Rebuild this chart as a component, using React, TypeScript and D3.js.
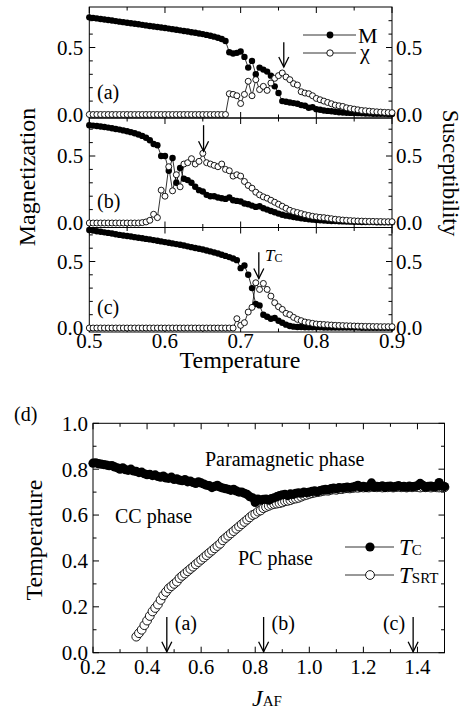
import React from 'react';
import * as d3 from 'd3';

const FONT = '"Liberation Serif", "Times New Roman", Times, serif';

// ---------- Top panels: temperature grid ----------
const T_START = 0.5;
const T_STEP = 0.005;
const T_COUNT = 81;
const TEMPS = d3.range(T_COUNT).map(i => +(T_START + T_STEP * i).toFixed(3));
const X_TICKS = [0.5, 0.6, 0.7, 0.8, 0.9];

// Panel (a)
const M_A = [
  .725,.721,.717,.713,.709,.705,.701,.697,.693,.689,.685,.681,.677,.673,.669,.665,.661,.657,.653,.649,
  .645,.641,.637,.632,.628,.623,.619,.614,.610,.605,.600,.594,.588,.581,.573,.563,.548,
  .465,.455,.46,.47,.43,.35,.40,.30,.35,.335,.32,.29,.21,.16,.10,.095,.09,.085,.08,.07,.065,.05,.055,
  .04,.035,.03,.027,.024,.02,.017,.015,.013,.012,.011,.01,.009,.008,.007,.006,.006,.005,.005,.004,.004
];
const CHI_A = [
  0,0,0,0,0,0,0,0,0,0,0,0,0,0,0,0,0,0,0,0,0,0,0,0,0,0,0,0,0,0,0,0,0,0,0,0,0,
  .155,.15,.14,.082,.15,.248,.14,.26,.186,.21,.18,.235,.27,.29,.31,.28,.26,.23,.22,.17,.16,.155,.14,
  .12,.11,.10,.09,.08,.07,.065,.06,.05,.045,.04,.035,.03,.028,.025,.022,.02,.018,.016,.015,.014
];
// Panel (b)
const M_B = [
  .730,.727,.724,.720,.716,.712,.707,.702,.697,.691,.685,.678,.670,.661,.650,.636,.618,
  .59,.58,.50,.50,.39,.485,.30,.41,.33,.32,.30,.27,.245,.235,.21,.20,.20,.19,.185,.18,.19,.17,.165,
  .16,.145,.14,.13,.12,.125,.11,.10,.09,.08,.07,.062,.055,.05,.045,.04,.036,.032,.028,.025,
  .022,.02,.018,.016,.015,.014,.013,.012,.011,.01,.009,.009,.008,.008,.007,.007,.006,.006,.005,.005,.005
];
const CHI_B = [
  0,0,0,0,0,0,0,0,0,0,0,0,0,0,.003,.008,.02,.065,.04,.245,.20,.42,.24,.36,.27,.44,.45,.48,.44,.46,
  .52,.45,.44,.43,.42,.44,.40,.39,.35,.36,.35,.31,.28,.26,.23,.21,.195,.185,.17,.155,
  .14,.125,.11,.095,.085,.078,.07,.062,.056,.05,.046,.042,.04,.036,.032,.028,.025,.022,.02,.018,
  .016,.015,.014,.013,.012,.012,.011,.011,.01,.01,.01
];
// Panel (c)
const M_C = [
  .737,.733,.728,.724,.719,.715,.710,.705,.700,.696,.692,.688,.683,.679,.675,.670,.666,.661,.656,.651,
  .646,.641,.636,.631,.626,.620,.614,.608,.602,.596,.590,.583,.576,.568,.560,.551,.542,.533,.523,.510,
  .45,.47,.40,.30,.18,.17,.10,.085,.07,.075,.055,.04,.025,.015,.01,.008,.007,.006,.006,.005,.005,
  .005,.004,.004,.004,.004,.003,.003,.003,.003,.003,.003,.002,.002,.002,.002,.002,.002,.002,.002,.002
];
const CHI_C = [
  0,0,0,0,0,0,0,0,0,0,0,0,0,0,0,0,0,0,0,0,0,0,0,0,0,0,0,0,0,0,0,0,0,0,0,0,0,0,0,
  .07,.02,.04,.12,.155,.34,.29,.335,.29,.24,.19,.16,.14,.11,.10,.08,.065,.055,.045,.04,.035,
  .03,.028,.026,.024,.022,.02,.019,.018,.017,.016,.015,.014,.013,.012,.012,.011,.011,.01,.01,.01,.01
];

// ---------- Panel (d) ----------
const J_TC = d3.range(131).map(k => +(0.2 + 0.01 * k).toFixed(2));
const TC = [
  .826,.828,.824,.822,.82,.818,.815,.816,.81,.806,
  .80,.806,.798,.795,.80,.792,.79,.785,.787,.78,
  .776,.778,.772,.775,.768,.765,.77,.762,.76,.765,
  .755,.758,.752,.75,.755,.745,.748,.742,.738,.745,
  .74,.735,.73,.728,.72,.725,.73,.722,.718,.715,
  .712,.708,.712,.705,.70,.70,.695,.69,.68,.675,
  .655,.67,.665,.668,.67,.665,.672,.675,.68,.685,
  .688,.69,.685,.692,.69,.695,.697,.695,.70,.698,
  .70,.703,.705,.702,.707,.71,.712,.71,.715,.718,
  .715,.72,.718,.72,.722,.72,.722,.725,.73,.722,
  .725,.72,.724,.74,.722,.725,.724,.727,.72,.725,
  .726,.722,.725,.728,.724,.725,.722,.726,.724,.725,
  .728,.738,.73,.722,.725,.726,.724,.725,.742,.727,.724
];
const J_SRT = d3.range(115).map(k => +(0.36 + 0.01 * k).toFixed(2));
const TSRT = [
  .07,.085,.10,.12,.14,.16,.18,.195,.21,.23,
  .25,.265,.28,.29,.30,.31,.325,.335,.345,.355,
  .365,.375,.385,.395,.405,.415,.425,.435,.445,.455,
  .465,.475,.49,.50,.51,.52,.53,.54,.55,.56,
  .57,.58,.59,.60,.605,.615,.62,.63,.635,.64,
  .645,.648,.65,.652,.655,.66,.662,.665,.67,.672,
  .675,.68,.685,.688,.692,.695,.698,.70,.702,.705,
  .707,.706,.71,.712,.71,.714,.713,.716,.717,.716,
  .718,.72,.719,.721,.72,.722,.72,.723,.722,.721,
  .722,.72,.723,.721,.722,.72,.722,.723,.721,.722,
  .72,.722,.721,.723,.722,.72,.722,.721,.722,.72,
  .722,.721,.72,.722,.721
];
const J_TICKS = [0.2, 0.4, 0.6, 0.8, 1.0, 1.2, 1.4];
const TD_TICKS = [0.0, 0.2, 0.4, 0.6, 0.8, 1.0];
const ARROWS_D = [
  { j: 0.473, label: '(a)', side: 'right' },
  { j: 0.831, label: '(b)', side: 'right' },
  { j: 1.384, label: '(c)', side: 'left' },
];

// ---------- layout ----------
const xT = d3.scaleLinear().domain([0.5, 0.9]).range([89.3, 392]);
const PANELS = [
  { id: 'a', M: M_A, chi: CHI_A, top: 7, bottom: 118, zero: 114.5, half: 47.5, label: '(a)', labelY: 99,
    arrowT: 0.757, arrowTop: 0.54, arrowTip: 0.355 },
  { id: 'b', M: M_B, chi: CHI_B, top: 118, bottom: 227.5, zero: 223, half: 156, label: '(b)', labelY: 208,
    arrowT: 0.651, arrowTop: 0.73, arrowTip: 0.535 },
  { id: 'c', M: M_C, chi: CHI_C, top: 227.5, bottom: 332, zero: 328, half: 261.5, label: '(c)', labelY: 314,
    arrowT: 0.724, arrowTop: 0.57, arrowTip: 0.372 },
];

const xJ = d3.scaleLinear().domain([0.2, 1.5]).range([93, 444.5]);
const yD = d3.scaleLinear().domain([0, 1]).range([652.7, 423.3]);

const fmt = d3.format('.1f');

function Arrow({ x, y0, y1 }: { x: number; y0: number; y1: number }) {
  return (
    <g stroke="#000" strokeWidth={1.3} fill="none">
      <line x1={x} y1={y0} x2={x} y2={y1} />
      <polyline points={`${x - 5},${y1 - 10} ${x},${y1} ${x + 5},${y1 - 10}`} />
    </g>
  );
}

function TopPanel({ p, last }: { p: typeof PANELS[number]; last: boolean }) {
  const y = d3.scaleLinear().domain([0, 0.5]).range([p.zero, p.half]);
  const line = d3.line<number>().x((_, i) => xT(TEMPS[i])).y(v => y(v));
  const [x0, x1] = xT.range();
  const yTicks = d3.range(0, 9).map(k => k / 10).filter(v => y(v) > p.top + 1.5);
  const xTicks = d3.range(0, 9).map(k => 0.5 + k * 0.05);
  return (
    <g>
      <rect x={x0} y={p.top} width={x1 - x0} height={p.bottom - p.top} fill="none" stroke="#000" strokeWidth={1} />
      {xTicks.map((t, k) => {
        const len = k % 2 === 0 ? 6 : 3.5;
        const xx = xT(t);
        return (
          <g key={'xt' + k} stroke="#000" strokeWidth={1}>
            <line x1={xx} x2={xx} y1={p.bottom} y2={p.bottom - len} />
            <line x1={xx} x2={xx} y1={p.top} y2={p.top + len} />
          </g>
        );
      })}
      {yTicks.map((v, k) => {
        const major = Math.abs(v) < 1e-6 || Math.abs(v - 0.5) < 1e-6;
        const len = major ? 6 : 3.5;
        const yy = y(v);
        return (
          <g key={'yt' + k} stroke="#000" strokeWidth={1}>
            <line x1={x0} x2={x0 + len} y1={yy} y2={yy} />
            <line x1={x1} x2={x1 - len} y1={yy} y2={yy} />
          </g>
        );
      })}
      {[0, 0.5].map(v => (
        <g key={'yl' + v} fontFamily={FONT} fontSize={21} fill="#000">
          <text x={x0 - 6} y={y(v)} dy="0.35em" textAnchor="end">{fmt(v)}</text>
          <text x={x1 + 4} y={y(v)} dy="0.35em" textAnchor="start">{fmt(v)}</text>
        </g>
      ))}
      {last && X_TICKS.map(t => (
        <text key={'xl' + t} x={xT(t)} y={p.bottom + 16} fontFamily={FONT} fontSize={21} textAnchor="middle">{fmt(t)}</text>
      ))}
      <path d={line(p.M) || ''} fill="none" stroke="#000" strokeWidth={0.8} />
      <path d={line(p.chi) || ''} fill="none" stroke="#000" strokeWidth={0.8} />
      {p.M.map((v, i) => (
        <circle key={'m' + i} cx={xT(TEMPS[i])} cy={y(v)} r={3.2} fill="#000" />
      ))}
      {p.chi.map((v, i) => (
        <circle key={'c' + i} cx={xT(TEMPS[i])} cy={y(v)} r={3.0} fill="#fff" stroke="#000" strokeWidth={0.9} />
      ))}
      <text x={97} y={p.labelY} fontFamily={FONT} fontSize={20}>{p.label}</text>
      <Arrow x={xT(p.arrowT)} y0={y(p.arrowTop)} y1={y(p.arrowTip)} />
    </g>
  );
}

export default function App() {
  const lineTC = d3.line<number>().x((_, i) => xJ(J_TC[i])).y(v => yD(v));
  const lineSRT = d3.line<number>().x((_, i) => xJ(J_SRT[i])).y(v => yD(v));
  const [dx0, dx1] = xJ.range();
  const [dy0, dy1] = yD.range();
  const jTicks = d3.range(2, 16).map(k => k / 10);
  const tTicks = d3.range(0, 11).map(k => k / 10);
  return (
    <svg width={463} height={712} style={{ position: 'absolute', left: 0, top: 0, background: '#fff' }}
      fontFamily={FONT}>
      <rect x={0} y={0} width={463} height={712} fill="#fff" />
      {PANELS.map((p, i) => <TopPanel key={p.id} p={p} last={i === PANELS.length - 1} />)}

      {/* legend panel a */}
      <g>
        <line x1={303} x2={356} y1={35} y2={35} stroke="#333" strokeWidth={1} />
        <circle cx={330} cy={35} r={3.4} fill="#000" />
        <text x={358} y={43} fontSize={22}>M</text>
        <line x1={303} x2={356} y1={53} y2={53} stroke="#333" strokeWidth={1} />
        <circle cx={330} cy={53} r={3.2} fill="#fff" stroke="#000" strokeWidth={0.9} />
        <text x={360} y={59} fontSize={22}>χ</text>
      </g>
      {/* T_C annotation panel c */}
      <text x={265} y={261} fontSize={17}>
        <tspan fontStyle="italic">T</tspan>
        <tspan fontSize={12} dy={1}>C</tspan>
      </text>

      <text x={240} y={368} fontSize={24} textAnchor="middle">Temperature</text>
      <text transform="translate(35,177) rotate(-90)" fontSize={24} textAnchor="middle">Magnetization</text>
      <text transform="translate(443,173) rotate(90)" fontSize={23} textAnchor="middle">Susceptibility</text>

      {/* Panel (d) */}
      <text x={14} y={421} fontSize={20}>(d)</text>
      <rect x={dx0} y={dy1} width={dx1 - dx0} height={dy0 - dy1} fill="none" stroke="#000" strokeWidth={1} />
      {jTicks.map((t, k) => {
        const major = k % 2 === 0;
        const len = major ? 6 : 3.5;
        const xx = xJ(t);
        return (
          <g key={'jt' + k} stroke="#000" strokeWidth={1}>
            <line x1={xx} x2={xx} y1={dy0} y2={dy0 - len} />
            <line x1={xx} x2={xx} y1={dy1} y2={dy1 + len} />
          </g>
        );
      })}
      {tTicks.map((t, k) => {
        const major = k % 2 === 0;
        const len = major ? 6 : 3.5;
        const yy = yD(t);
        return (
          <g key={'tt' + k} stroke="#000" strokeWidth={1}>
            <line x1={dx0} x2={dx0 + len} y1={yy} y2={yy} />
            <line x1={dx1} x2={dx1 - len} y1={yy} y2={yy} />
          </g>
        );
      })}
      {J_TICKS.map(t => (
        <text key={'jl' + t} x={xJ(t)} y={674} fontSize={21} textAnchor="middle">{fmt(t)}</text>
      ))}
      {TD_TICKS.map(t => (
        <text key={'tl' + t} x={dx0 - 5} y={yD(t)} dy="0.35em" fontSize={21} textAnchor="end">{fmt(t)}</text>
      ))}
      <text x={205} y={466} fontSize={20}>Paramagnetic phase</text>
      <text x={115} y={523} fontSize={20}>CC phase</text>
      <text x={238} y={565} fontSize={20}>PC phase</text>

      <path d={lineSRT(TSRT) || ''} fill="none" stroke="#000" strokeWidth={0.8} />
      {TSRT.map((v, i) => (
        <circle key={'s' + i} cx={xJ(J_SRT[i])} cy={yD(v)} r={4.4} fill="#fff" stroke="#000" strokeWidth={0.9} />
      ))}
      <path d={lineTC(TC) || ''} fill="none" stroke="#000" strokeWidth={0.8} />
      {TC.map((v, i) => (
        <circle key={'t' + i} cx={xJ(J_TC[i])} cy={yD(v)} r={4.6} fill="#000" />
      ))}

      {ARROWS_D.map(a => (
        <g key={a.label}>
          <Arrow x={xJ(a.j)} y0={617} y1={dy0 - 1} />
          <text x={a.side === 'right' ? xJ(a.j) + 8 : xJ(a.j) - 8} y={630} fontSize={20}
            textAnchor={a.side === 'right' ? 'start' : 'end'}>{a.label}</text>
        </g>
      ))}

      {/* legend panel d */}
      <g>
        <line x1={345} x2={394} y1={547} y2={547} stroke="#333" strokeWidth={1} />
        <circle cx={370} cy={547} r={4.6} fill="#000" />
        <text x={399} y={555} fontSize={23}>
          <tspan fontStyle="italic">T</tspan>
          <tspan fontSize={15}>C</tspan>
        </text>
        <line x1={345} x2={394} y1={575} y2={575} stroke="#333" strokeWidth={1} />
        <circle cx={370} cy={575} r={4.4} fill="#fff" stroke="#000" strokeWidth={0.9} />
        <text x={399} y={583} fontSize={23}>
          <tspan fontStyle="italic">T</tspan>
          <tspan fontSize={15}>SRT</tspan>
        </text>
      </g>

      <text transform="translate(42,540) rotate(-90)" fontSize={24} textAnchor="middle">Temperature</text>
      <text x={252} y={706} fontSize={24}>
        <tspan fontStyle="italic">J</tspan>
        <tspan fontSize={15}>AF</tspan>
      </text>
    </svg>
  );
}
